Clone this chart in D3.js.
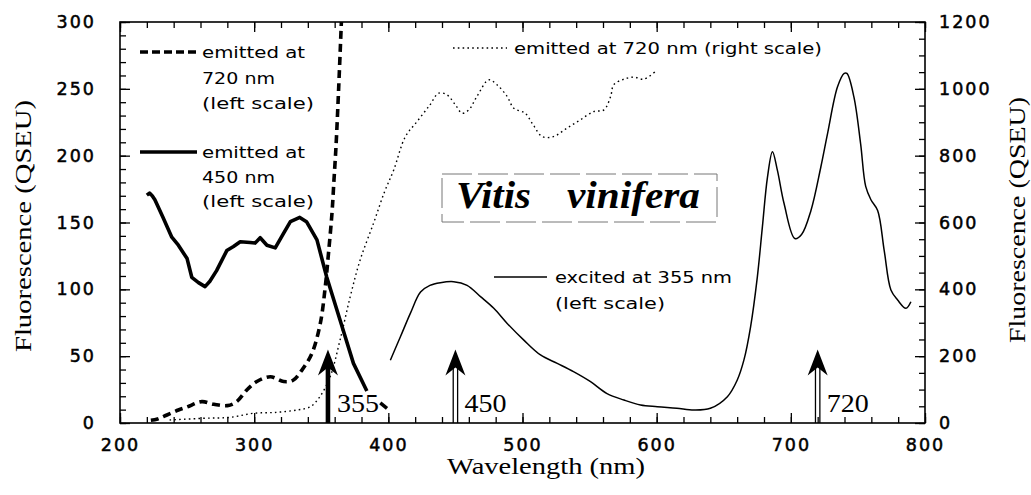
<!DOCTYPE html>
<html><head><meta charset="utf-8">
<script src="https://cdn.jsdelivr.net/npm/d3@7"></script>
<style>body{margin:0;background:#fff}svg{display:block}</style>
</head><body><svg id="c" width="1031" height="495"></svg>
<script>
// ---- data (wavelength nm, fluorescence QSEU) ----
const emit720Left = [[223,2],[228,3],[235,6],[243.5,9.7],[250,12],[261,16],[270,14],[280,13],[287,16],[294.5,24.7],[302,31],[312,34.6],[322,31],[329,32],[335.6,39.6],[343,52],[349.3,74.6],[353,102],[355.4,127],[358,157],[359.5,182],[361,207],[363,251],[365,300]];
const emit450Left = [[220,170.5],[222,172],[224,170],[226,167],[232,154],[238.6,139],[243.5,133],[250,123],[253.5,109],[258.5,105],[263.4,102],[267,106],[272,114],[279.6,129],[284.6,132],[289.6,135.6],[297,135],[300.7,134.6],[304.5,138.6],[309.5,133],[315.7,131],[322,142],[327,150.6],[334,153.8],[339,150.6],[346.8,137],[354,109.4],[364,77],[374,44.6],[384,24]];
const emit450Tail = [[394,15],[399,11]];
const emit720Right = [[237,9],[262,14],[282,17],[299.5,29],[317,32],[332,39],[342,49],[349,79],[356.7,139],[364,248],[371.6,378],[379,488],[389,598],[397,690],[404,757],[412.7,857],[421.4,902],[431,952],[437.5,987],[443.7,982],[450,952],[455,927],[460,937],[466,977],[474.9,1027],[481,1012],[488.6,977],[493.5,942],[502,927],[508,892],[514.7,857],[523,857],[533,882],[543,907],[553,932],[560.7,937],[565.7,977],[568,1012],[575.6,1029],[583,1035],[590.5,1029],[599,1052]];
const excit355Left = [[401.5,47],[409,64.5],[416.4,82],[424,98],[431,103],[438.8,105],[448.7,105.7],[458.7,103],[468.7,94.5],[478.6,85.8],[488.6,74.5],[501,62],[513.4,50.9],[525.9,44.6],[538,38.4],[550.7,30.9],[563,22],[575.6,17.2],[588,13.5],[600.5,12.2],[615,11],[627.8,9.7],[640,11],[652.7,19.7],[660,32],[665,47],[670,72],[675,109],[678.8,146.7],[682.6,184],[686.3,203],[690,189],[695,164],[703,138],[708,141],[715,159],[722.4,191.7],[727.4,216.7],[734.8,251.5],[739.8,261.5],[741.8,261.5],[747,244],[752,209],[755.8,177],[759.7,167],[764.7,159],[769.6,129],[774.6,99.5],[779.6,92],[785.8,85.8],[789.5,90.7]];
const arrowWavelengths = [355, 450, 720];
const arrowLabels = ["355", "450", "720"];
const xTicks = [200, 300, 400, 500, 600, 700, 800];
const leftTicks = [0, 50, 100, 150, 200, 250, 300];
const rightTicks = [0, 200, 400, 600, 800, 1000, 1200];

const svg = d3.select("#c");
const x = d3.scaleLinear().domain([200, 800]).range([120, 925]);
const yL = d3.scaleLinear().domain([0, 300]).range([423, 22]);
const yR = d3.scaleLinear().domain([0, 1200]).range([423, 22]);
const sans = "'DejaVu Sans', Verdana, sans-serif";
const serif = "'Liberation Serif', 'Times New Roman', serif";

function styleAxis(g){
  g.select(".domain").remove();
  g.selectAll("line").attr("stroke","#000").attr("stroke-width",1.3);
  g.selectAll("text").attr("font-family",sans).attr("font-size",17.5).attr("letter-spacing",2)
    .attr("fill","#000").attr("stroke","#000").attr("stroke-width",0.5);
}
const minorX = d3.range(200, 801, 20), minorL = d3.range(0, 301, 10), minorR = d3.range(0, 1201, 50);
// bottom
svg.append("g").attr("transform","translate(0,423)").call(d3.axisBottom(x).tickValues(minorX).tickSize(-6).tickFormat("")).call(styleAxis);
svg.append("g").attr("transform","translate(0,423)").call(d3.axisBottom(x).tickValues(xTicks).tickSize(-10).tickPadding(16).tickFormat(d3.format("d"))).call(styleAxis);
// top
svg.append("g").attr("transform","translate(0,22)").call(d3.axisTop(x).tickValues(minorX).tickSize(-6).tickFormat("")).call(styleAxis);
svg.append("g").attr("transform","translate(0,22)").call(d3.axisTop(x).tickValues(xTicks).tickSize(-10).tickFormat("")).call(styleAxis);
// left
svg.append("g").attr("transform","translate(120,0)").call(d3.axisLeft(yL).tickValues(minorL).tickSize(-6).tickFormat("")).call(styleAxis);
svg.append("g").attr("transform","translate(120,0)").call(d3.axisLeft(yL).tickValues(leftTicks).tickSize(-10).tickPadding(24).tickFormat(d3.format("d"))).call(styleAxis);
// right
svg.append("g").attr("transform","translate(925,0)").call(d3.axisRight(yR).tickValues(minorR).tickSize(-6).tickFormat("")).call(styleAxis);
svg.append("g").attr("transform","translate(925,0)").call(d3.axisRight(yR).tickValues(rightTicks).tickSize(-10).tickPadding(14).tickFormat(d3.format("d"))).call(styleAxis);

// frame
svg.append("rect").attr("x",120).attr("y",22).attr("width",805).attr("height",401)
  .attr("fill","none").attr("stroke","#000").attr("stroke-width",1.6);

// axis titles
svg.append("text").attr("transform","translate(31,226) rotate(-90)").attr("text-anchor","middle")
  .attr("font-family",serif).attr("font-size",23).attr("textLength",252).attr("lengthAdjust","spacingAndGlyphs").text("Fluorescence (QSEU)");
svg.append("text").attr("transform","translate(1025,220) rotate(-90)").attr("text-anchor","middle")
  .attr("font-family",serif).attr("font-size",23).attr("textLength",246).attr("lengthAdjust","spacingAndGlyphs").text("Fluorescence (QSEU)");
svg.append("text").attr("x",546).attr("y",474).attr("text-anchor","middle")
  .attr("font-family",serif).attr("font-size",23).attr("textLength",198).attr("lengthAdjust","spacingAndGlyphs").text("Wavelength (nm)");

// curves
const lineL = d3.line().x(d=>x(d[0])).y(d=>yL(d[1]));
const smoothL = d3.line().x(d=>x(d[0])).y(d=>yL(d[1])).curve(d3.curveCatmullRom.alpha(0.5));
const smoothR = d3.line().x(d=>x(d[0])).y(d=>yR(d[1])).curve(d3.curveCatmullRom.alpha(0.5));
svg.append("path").attr("d",smoothR(emit720Right)).attr("fill","none").attr("stroke","#000").attr("stroke-width",1.4).attr("stroke-dasharray","1.6,3.2");
svg.append("path").attr("d",smoothL(excit355Left)).attr("fill","none").attr("stroke","#000").attr("stroke-width",1.5);
svg.append("path").attr("d",lineL(emit450Left)).attr("fill","none").attr("stroke","#000").attr("stroke-width",3.6).attr("stroke-linejoin","round");
svg.append("path").attr("d",lineL(emit450Tail)).attr("fill","none").attr("stroke","#000").attr("stroke-width",3.6);
svg.append("path").attr("d",smoothL(emit720Left)).attr("fill","none").attr("stroke","#000").attr("stroke-width",3.6).attr("stroke-dasharray","8,5");

// arrows
const tipVal = 55;
arrowWavelengths.forEach((w,i)=>{
  const ax = x(w), ty = yL(tipVal), by = yL(0);
  const g = svg.append("g");
  if(i===0){
    g.append("rect").attr("x",ax-2.3).attr("y",ty+15).attr("width",4.6).attr("height",by-ty-15).attr("fill","#000");
  } else {
    g.append("line").attr("x1",ax-2.2).attr("x2",ax-2.2).attr("y1",ty+15).attr("y2",by).attr("stroke","#000").attr("stroke-width",1.3);
    g.append("line").attr("x1",ax+2.2).attr("x2",ax+2.2).attr("y1",ty+15).attr("y2",by).attr("stroke","#000").attr("stroke-width",1.3);
  }
  g.append("path").attr("d",`M${ax},${ty} L${ax+10},${ty+26} L${ax},${ty+18} L${ax-10},${ty+26} Z`).attr("fill","#000");
  g.append("text").attr("x",ax+9).attr("y",412).attr("font-family",serif).attr("font-size",26)
    .attr("textLength",42).attr("lengthAdjust","spacingAndGlyphs").text(arrowLabels[i]);
});

// legends
function legText(xp, yp, s, w){
  svg.append("text").attr("x",xp).attr("y",yp).attr("font-family",sans).attr("font-size",15)
    .attr("textLength",w).attr("lengthAdjust","spacingAndGlyphs").text(s);
}
svg.append("line").attr("x1",140).attr("x2",198).attr("y1",52).attr("y2",52).attr("stroke","#000").attr("stroke-width",3.6).attr("stroke-dasharray","8,4");
legText(202,58,"emitted at",103); legText(202,84,"720 nm",73); legText(202,109,"(left scale)",112);
svg.append("line").attr("x1",140).attr("x2",197).attr("y1",152).attr("y2",152).attr("stroke","#000").attr("stroke-width",3.6);
legText(202,158,"emitted at",103); legText(202,183,"450 nm",73); legText(202,207,"(left scale)",112);
svg.append("line").attr("x1",453).attr("x2",507).attr("y1",48).attr("y2",48).attr("stroke","#000").attr("stroke-width",1.4).attr("stroke-dasharray","1.6,3.2");
legText(514,54,"emitted at 720 nm (right scale)",308);
svg.append("line").attr("x1",494).attr("x2",547).attr("y1",277).attr("y2",277).attr("stroke","#000").attr("stroke-width",1.3);
legText(555,283,"excited at 355 nm",177); legText(555,309,"(left scale)",110);

// species box
svg.append("rect").attr("x",442).attr("y",174).attr("width",275).attr("height",48)
  .attr("fill","none").attr("stroke","#777").attr("stroke-width",1).attr("stroke-dasharray","30,6");
svg.append("text").attr("x",456).attr("y",208).attr("font-family",serif).attr("font-size",38).attr("font-weight","bold").attr("font-style","italic")
  .attr("textLength",75).attr("lengthAdjust","spacingAndGlyphs").text("Vitis");
svg.append("text").attr("x",567).attr("y",208).attr("font-family",serif).attr("font-size",38).attr("font-weight","bold").attr("font-style","italic")
  .attr("textLength",133).attr("lengthAdjust","spacingAndGlyphs").text("vinifera");
</script></body></html>
